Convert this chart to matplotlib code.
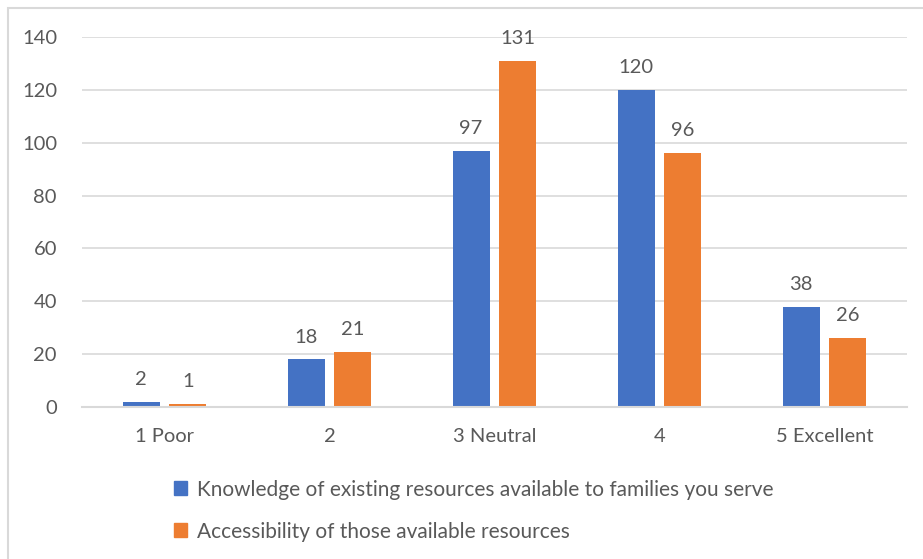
import matplotlib
matplotlib.use("Agg")
import matplotlib.pyplot as plt
from matplotlib.patches import Rectangle
import numpy as np

categories = ["1 Poor", "2", "3 Neutral", "4", "5 Excellent"]
knowledge = [2, 18, 97, 120, 38]
accessibility = [1, 21, 131, 96, 26]
series_names = [
    "Knowledge of existing resources available to families you serve",
    "Accessibility of those available resources",
]
yticks = [0, 20, 40, 60, 80, 100, 120, 140]

BLUE = "#4472C4"
ORANGE = "#ED7D31"
TEXT = "#595959"
GRID = "#D9D9D9"
FS = 14.5

plt.rcParams["font.family"] = ["Lato", "DejaVu Sans"]

W, H = 923, 559
fig = plt.figure(figsize=(W / 100, H / 100), dpi=100)

# chart frame
fig.add_artist(Rectangle((8 / W, -0.05), 1.2, 1 - 8 / H + 0.05,
                         transform=fig.transFigure, fill=False,
                         edgecolor="#D9D9D9", linewidth=1.5))

ax = fig.add_axes([82 / W, 1 - 407 / H, (907 - 82) / W, (407 - 37) / H])
x = np.arange(len(categories))
width = 0.224
off = 0.142
b1 = ax.bar(x - off, knowledge, width, color=BLUE, label=series_names[0])
b2 = ax.bar(x + off, accessibility, width, color=ORANGE, label=series_names[1])

for bars, vals in ((b1, knowledge), (b2, accessibility)):
    for rect, v in zip(bars, vals):
        ax.annotate(str(v), (rect.get_x() + rect.get_width() / 2, v),
                    xytext=(0, 10), textcoords="offset points",
                    ha="center", va="bottom", fontsize=FS, color=TEXT)

ax.set_xlim(-0.5, len(categories) - 0.5)
ax.set_ylim(0, 140)
ax.set_yticks(yticks)
ax.set_xticks(x)
ax.set_xticklabels(categories)
ax.tick_params(axis="both", length=0, labelsize=FS, labelcolor=TEXT)
ax.tick_params(axis="y", pad=18)
ax.tick_params(axis="x", pad=15)
ax.yaxis.grid(True, color=GRID, linewidth=1.2)
ax.set_axisbelow(True)
for s in ("top", "right", "left"):
    ax.spines[s].set_visible(False)
ax.spines["bottom"].set_color(GRID)
ax.spines["bottom"].set_linewidth(1.5)

handles = [Rectangle((0, 0), 1, 1, color=BLUE), Rectangle((0, 0), 1, 1, color=ORANGE)]
fig.legend(handles, series_names, loc="upper left",
           bbox_to_anchor=(155 / W, 1 - 461 / H), frameon=False,
           fontsize=15, labelcolor=TEXT, handlelength=0.65, handleheight=0.65,
           handletextpad=0.45, labelspacing=1.05)

fig.savefig("out.png", dpi=100, facecolor="white")
